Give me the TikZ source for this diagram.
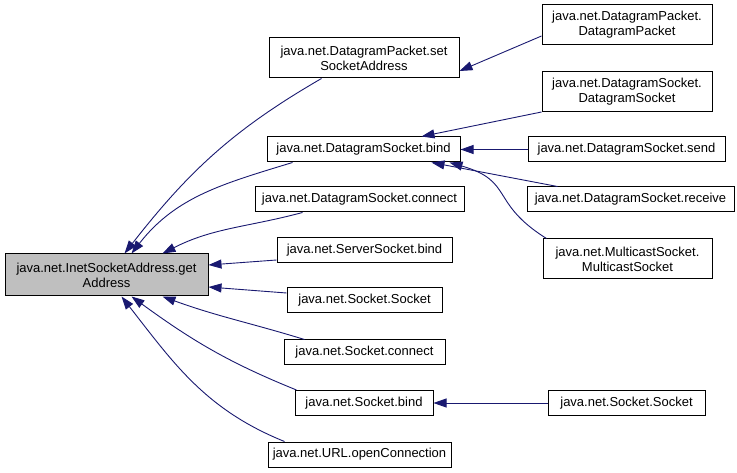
\documentclass[tikz,border=0pt]{standalone}
\usepackage{fontspec}
\setmainfont{Liberation Sans}
\usetikzlibrary{arrows.meta}
\definecolor{edgeblue}{HTML}{191970}
\definecolor{nodegray}{HTML}{BFBFBF}
\begin{document}
\begin{tikzpicture}[x=1pt,y=1pt,
  box/.style={draw=black, line width=1pt, fill=white, rectangle, inner sep=0pt, align=center,
    font=\fontsize{13}{15}\selectfont},
  edge/.style={draw=edgeblue, line width=0.9pt, -{Triangle[length=13pt,width=9pt]}}]
\useasboundingbox (0,0) rectangle (737,-473);

% root
\node[box, fill=nodegray, minimum width=203pt, minimum height=42pt] (ga) at (106.5,-275) {java.net.InetSocketAddress.get\\Address};

% middle column
\node[box, minimum width=190pt, minimum height=40pt] (dpset) at (364,-58) {java.net.DatagramPacket.set\\SocketAddress};
\node[box, minimum width=193pt, minimum height=25pt] (dsbind) at (363.5,-149.5) {java.net.DatagramSocket.bind};
\node[box, minimum width=209pt, minimum height=25pt] (dscon) at (359.5,-199.5) {java.net.DatagramSocket.connect};
\node[box, minimum width=175pt, minimum height=25pt] (ssbind) at (364.5,-250.5) {java.net.ServerSocket.bind};
\node[box, minimum width=155pt, minimum height=25pt] (sock) at (364.5,-300) {java.net.Socket.Socket};
\node[box, minimum width=161pt, minimum height=25pt] (sockcon) at (364.5,-352.5) {java.net.Socket.connect};
\node[box, minimum width=138pt, minimum height=25pt] (sockbind) at (364,-403) {java.net.Socket.bind};
\node[box, minimum width=183pt, minimum height=25pt] (url) at (359.5,-454.5) {java.net.URL.openConnection};

% right column
\node[box, minimum width=170pt, minimum height=40pt] (dpdp) at (627,-25) {java.net.DatagramPacket.\\DatagramPacket};
\node[box, minimum width=170pt, minimum height=40pt] (dsds) at (627,-91.5) {java.net.DatagramSocket.\\DatagramSocket};
\node[box, minimum width=197pt, minimum height=25pt] (send) at (626.5,-149.5) {java.net.DatagramSocket.send};
\node[box, minimum width=207pt, minimum height=25pt] (recv) at (630.5,-199.5) {java.net.DatagramSocket.receive};
\node[box, minimum width=169pt, minimum height=40pt] (mcast) at (627.5,-259) {java.net.MulticastSocket.\\MulticastSocket};
\node[box, minimum width=157pt, minimum height=25pt] (sock2) at (626.5,-403) {java.net.Socket.Socket};

% edges into root
\draw[edge] ([xshift=53pt]dpset.south west) to[out=210,in=52] ([xshift=120pt]ga.north west);
\draw[edge] ([xshift=26pt]dsbind.south west) to[out=197,in=52] ([xshift=127pt]ga.north west);
\draw[edge] ([xshift=48pt]dscon.south west) to[out=195,in=27] ([xshift=158pt]ga.north west);
\draw[edge] ([yshift=-9.5pt]ssbind.west) -- ([yshift=10pt]ga.east);
\draw[edge] ([yshift=7pt]sock.west) -- ([yshift=-12pt]ga.east);
\draw[edge] ([xshift=21pt]sockcon.north west) to[out=163,in=-20] ([xshift=158pt]ga.south west);
\draw[edge] ([xshift=2pt]sockbind.north west) to[out=158,in=-36] ([xshift=127pt]ga.south west);
\draw[edge] ([xshift=17pt]url.north west) to[out=158,in=-52] ([xshift=117pt]ga.south west);

% right edges
\draw[edge] ([yshift=-11pt]dpdp.west) -- ([yshift=-13pt]dpset.east);
\draw[edge] (dsds.south west) -- ([xshift=155pt]dsbind.north west);
\draw[edge] (send.west) -- (dsbind.east);
\draw[edge] ([xshift=31pt]recv.north west) -- ([xshift=165pt]dsbind.south west);
\draw[edge] ([xshift=4pt]mcast.north west) to[out=148,in=-16,looseness=1.4] ([xshift=183pt]dsbind.south west);
\draw[edge] (sock2.west) -- (sockbind.east);
\end{tikzpicture}
\end{document}
